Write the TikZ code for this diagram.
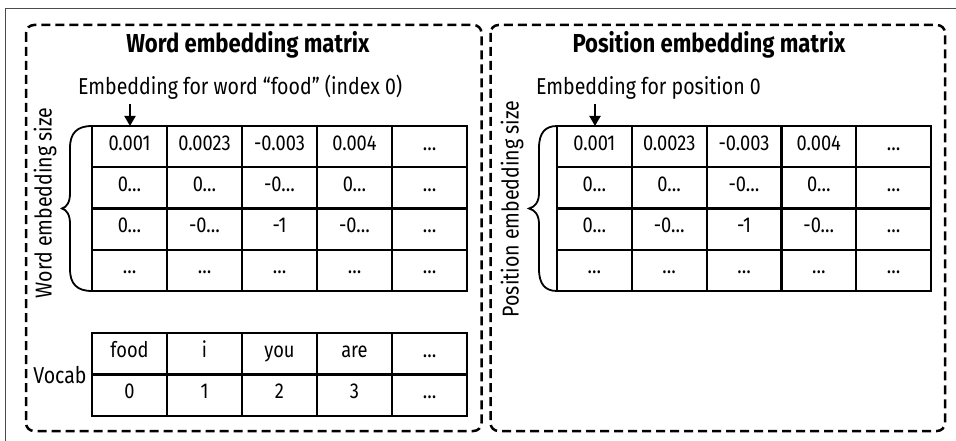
\documentclass[tikz,border=0pt]{standalone}
\usepackage{fontspec}
\setmainfont{Fira Sans}[FakeStretch=0.85]
\usetikzlibrary{arrows.meta}
\begin{document}
\begin{tikzpicture}[x=1pt,y=-1pt,
  cell/.style={draw, line width=2.2pt, minimum width=75pt, minimum height=41.25pt,
    inner sep=0pt, outer sep=0pt, anchor=north west, text height=0.69em, text depth=0pt,
    font=\fontsize{21.5}{21.5}\selectfont},
  pcell/.style={cell, minimum width=74.8pt},
  vcell/.style={cell, minimum height=41.5pt},
  lbl/.style={inner sep=0pt, font=\fontsize{23}{23}\selectfont},
  ttl/.style={inner sep=0pt, font=\fontsize{26}{26}\selectfont\bfseries},
  dbox/.style={line width=2.5pt, dash pattern=on 9pt off 5pt, rounded corners=8pt},
  arr/.style={line width=2pt, -{Triangle[width=11pt,length=10pt]}},
  brc/.style={line width=1.8pt}
]
\useasboundingbox (0,0) rectangle (956,441);
% outer frame
\draw[black!70, line width=1pt] (5,441) -- (5,9) -- (956,9);
% dashed boxes
\draw[dbox] (26,25) rectangle (481.5,431);
\draw[dbox] (490.5,25) rectangle (945,431);
% titles
\node[ttl] (tL) at (248,45) {Word embedding matrix};
\node[ttl] (tR) at (709,45) {Position embedding matrix};
% word embedding table
\foreach [count=\i] \row in {{0.001,0.0023,-0.003,0.004,…},{0…,0…,-0…,0…,…},{0…,-0…,-1,-0…,…},{…,…,…,…,…}}{
  \foreach [count=\j] \t in \row {
    \node[cell] (W\i\j) at ({92+75*(\j-1)},{126+41.25*(\i-1)}) {\t};
  }
}
% position embedding table
\foreach [count=\i] \row in {{0.001,0.0023,-0.003,0.004,…},{0…,0…,-0…,0…,…},{0…,-0…,-1,-0…,…},{…,…,…,…,…}}{
  \foreach [count=\j] \t in \row {
    \node[pcell] (P\i\j) at ({557+74.8*(\j-1)},{126+41.25*(\i-1)}) {\t};
  }
}
% vocab table
\foreach [count=\i] \row in {{food,i,you,are,…},{0,1,2,3,…}}{
  \foreach [count=\j] \t in \row {
    \node[vcell] (V\i\j) at ({92+75*(\j-1)},{333+41.5*(\i-1)}) {\t};
  }
}
\node[lbl] (voc) at (60,375) {Vocab};
% labels
\node[lbl, anchor=base west] (eL) at (78,95) {Embedding for word “food” (index 0)};
\node[lbl, anchor=base west] (eR) at (536,95) {Embedding for position 0};
\coordinate (aL) at (130,104);
\coordinate (aR) at (595,104);
\draw[arr] (aL) -- (aL |- W11.north);
\draw[arr] (aR) -- (aR |- P11.north);
% rotated labels
\node[lbl, rotate=90] (sL) at (45,203) {Word embedding size};
\node[lbl, rotate=90] (sR) at (512,209) {Position embedding size};
% braces
\draw[brc] (W11.north west) .. controls (77,126) and (70,133) .. (70,148) -- (70,193)
  .. controls (70,202) and (67,207) .. (62,208.5)
  .. controls (67,210) and (70,215) .. (70,224) -- (70,269)
  .. controls (70,284) and (77,291) .. (W41.south west);
\draw[brc] (P11.north west) .. controls (545,126) and (539,133) .. (539,148) -- (539,193)
  .. controls (539,202) and (535,207) .. (529,208.5)
  .. controls (535,210) and (539,215) .. (539,224) -- (539,269)
  .. controls (539,284) and (545,291) .. (P41.south west);
\end{tikzpicture}
\end{document}
